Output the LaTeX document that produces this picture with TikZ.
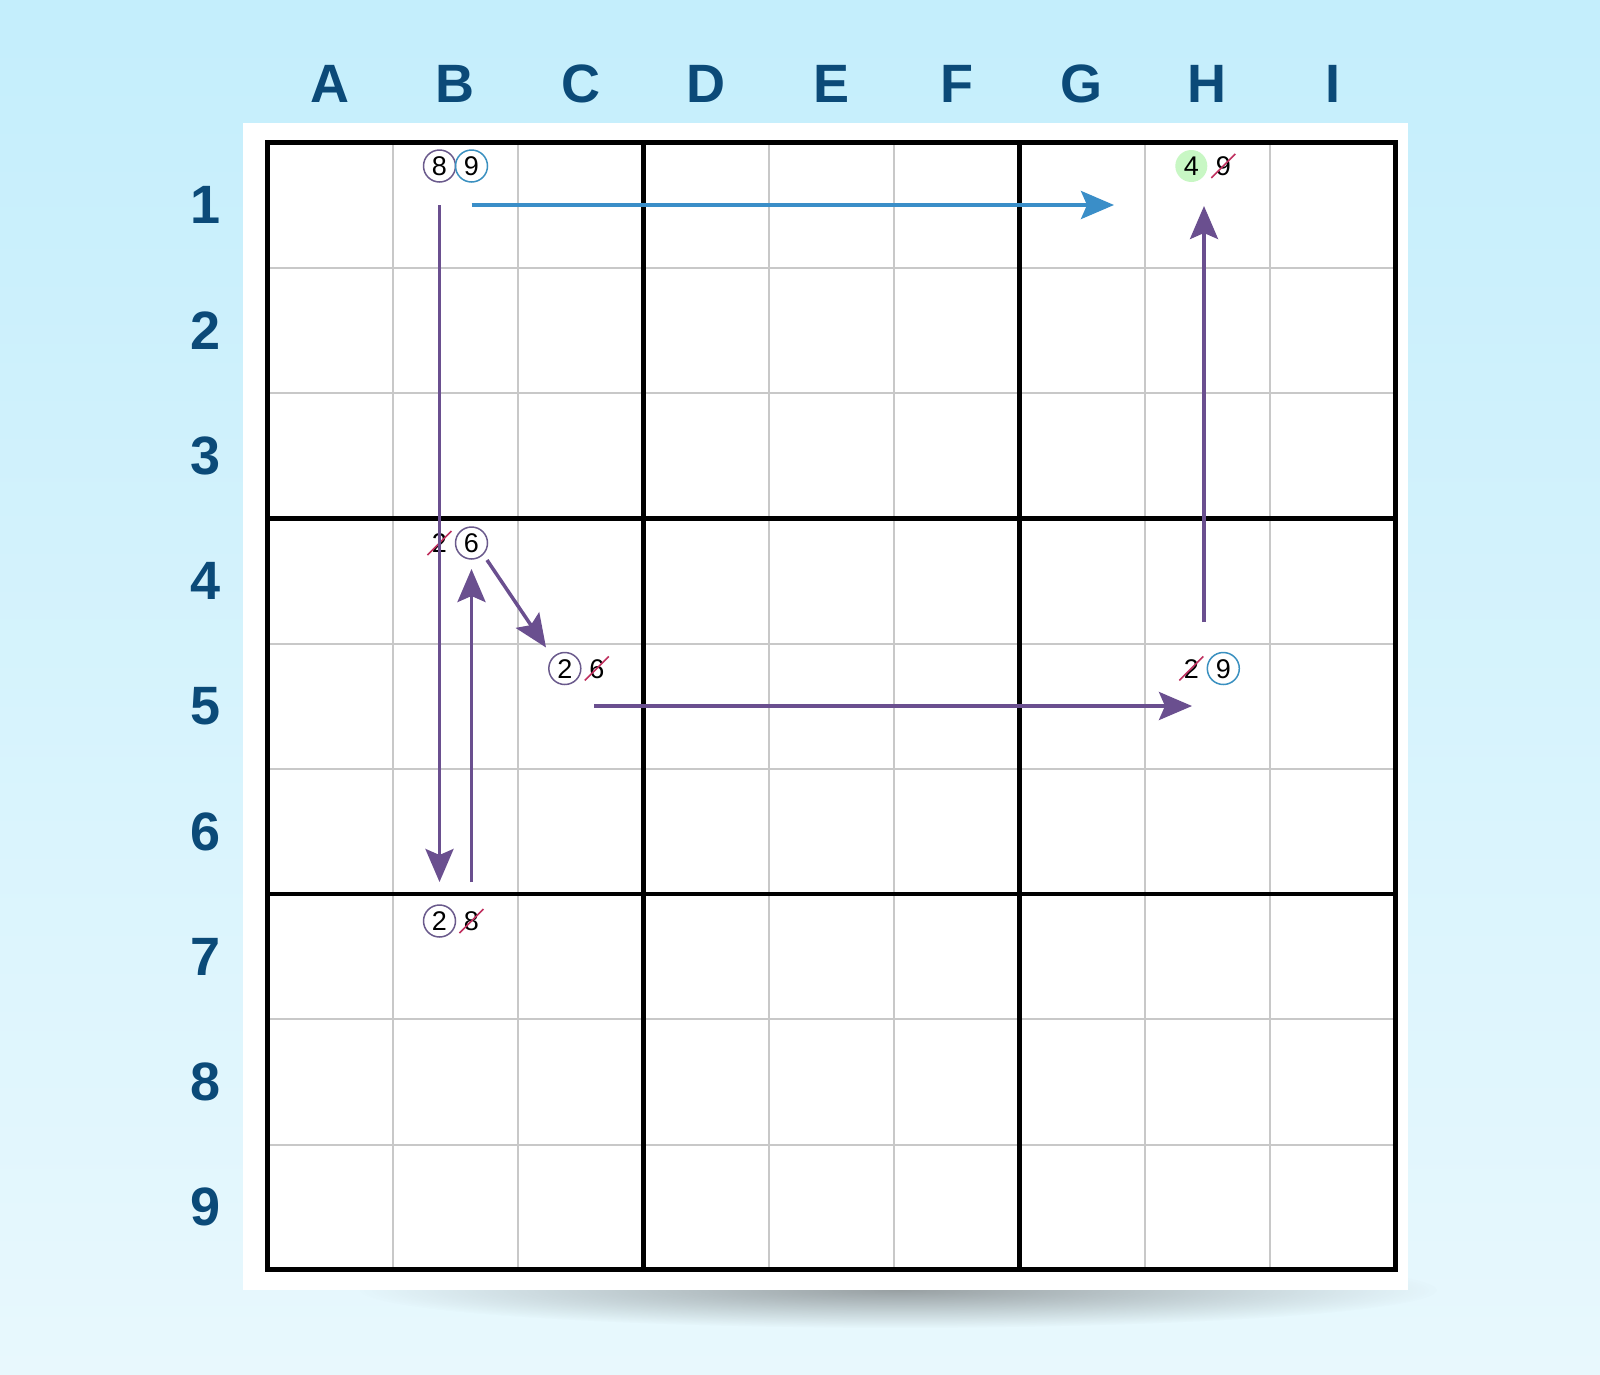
\documentclass[tikz,border=0pt]{standalone}
\usepackage{fontspec}
\setmainfont{Liberation Sans}
\usetikzlibrary{arrows.meta,fadings}
\definecolor{bgtop}{HTML}{C4EEFC}
\definecolor{bgbot}{HTML}{E8F8FD}
\definecolor{lbl}{HTML}{0B4A78}
\definecolor{pur}{HTML}{6A4F8F}
\definecolor{blu}{HTML}{3A8EC8}
\definecolor{purc}{HTML}{6A5A8C}
\definecolor{bluc}{HTML}{3A90C0}
\definecolor{grn}{HTML}{C8F7C4}
\definecolor{strk}{HTML}{C0305F}
\definecolor{thin}{HTML}{C8C8C8}
\tikzfading[name=shadowfade, inner color=transparent!45, outer color=transparent!100]
\tikzset{
  collbl/.style={font=\fontsize{54}{60}\selectfont\bfseries, text=lbl, inner sep=0pt},
  dig/.style={font=\fontsize{27}{30}\selectfont, text=black, inner sep=0pt, text height=19.3pt, text depth=0pt, minimum size=32pt, circle},
  cpur/.style={dig, draw=purc, line width=1.5pt},
  cblu/.style={dig, draw=bluc, line width=1.5pt},
  cgrn/.style={dig, fill=grn},
  strikeline/.style={draw=strk, line width=1.6pt},
  parrow/.style={draw=pur, line width=3.5pt, -{Stealth[length=33pt,width=28pt,inset=6pt]}},
  barrow/.style={draw=blu, line width=3.5pt, -{Stealth[length=33pt,width=28pt,inset=6pt]}},
  thinline/.style={draw=thin, line width=2pt},
  thickline/.style={draw=black, line width=4.5pt}
}
\newcommand{\strikeit}[1]{\draw[strikeline] ([shift={(-12,12)}]#1.center) -- ([shift={(12,-12)}]#1.center);}
\begin{document}
\begin{tikzpicture}[x=1pt,y=-1pt]
\useasboundingbox (0,0) rectangle (1600,1374);
\shade[top color=bgtop, bottom color=bgbot] (0,0) rectangle (1600,1374);
% shadow
\fill[black!65, path fading=shadowfade] (900,1290) ellipse (540 and 38);
% panel
\fill[white] (243,123) rectangle (1408,1290);
% thin grid lines
\foreach \i in {1,2,4,5,7,8} {
  \draw[thinline] (267.5+125.3*\i,142.5) -- (267.5+125.3*\i,1269.5);
  \draw[thinline] (267.5,142.5+125.25*\i) -- (1395.5,142.5+125.25*\i);
}
% thick grid lines
\foreach \i in {3,6} {
  \draw[thickline] (267.5+125.3*\i,142.5) -- (267.5+125.3*\i,1269.5);
  \draw[thickline] (267.5,142.5+125.25*\i) -- (1395.5,142.5+125.25*\i);
}
\draw[thickline] (267.5,142.5) rectangle (1395.5,1269.5);
% column labels
\foreach \l [count=\i] in {A,B,C,D,E,F,G,H,I} {
  \node[collbl] (col\l) at (267.5+125.3*\i-62.65,84) {\l};
}
% row labels
\foreach \r in {1,...,9} {
  \node[collbl] (row\r) at (206,142.5+125.25*\r-62.6) {\r};
}
% candidates
\node[cpur] (b1a) at (439.5,166) {8};
\node[cblu] (b1b) at (471.5,166) {9};
\node[cgrn] (h1a) at (1191.3,166) {4};
\node[dig]  (h1b) at (1223.3,166) {9};
\strikeit{h1b}
\node[dig]  (b4a) at (439.5,543) {2};
\strikeit{b4a}
\node[cpur] (b4b) at (471.5,543) {6};
\node[cpur] (c5a) at (564.8,668.5) {2};
\node[dig]  (c5b) at (596.8,668.5) {6};
\strikeit{c5b}
\node[dig]  (h5a) at (1191.3,668.5) {2};
\strikeit{h5a}
\node[cblu] (h5b) at (1223.3,668.5) {9};
\node[cpur] (b7a) at (439.5,921) {2};
\node[dig]  (b7b) at (471.5,921) {8};
\strikeit{b7b}
% arrow end points
\coordinate (a1s) at (471.5,205);
\coordinate (a1e) at (1114,205);
\coordinate (a2s) at (439.5,205);
\coordinate (a2e) at (439.5,882);
\coordinate (a3s) at (471.5,882);
\coordinate (a3e) at (471.5,569);
\coordinate (a4s) at (487,560);
\coordinate (a4e) at (546,647.5);
\coordinate (a5s) at (594,706);
\coordinate (a5e) at (1192,706);
\coordinate (a6s) at (1204,622);
\coordinate (a6e) at (1204,206);
\draw[barrow] (a1s) -- (a1e);
\draw[parrow] (a2s) -- (a2e);
\draw[parrow] (a3s) -- (a3e);
\draw[parrow] (a4s) -- (a4e);
\draw[parrow] (a5s) -- (a5e);
\draw[parrow] (a6s) -- (a6e);
\end{tikzpicture}
\end{document}
